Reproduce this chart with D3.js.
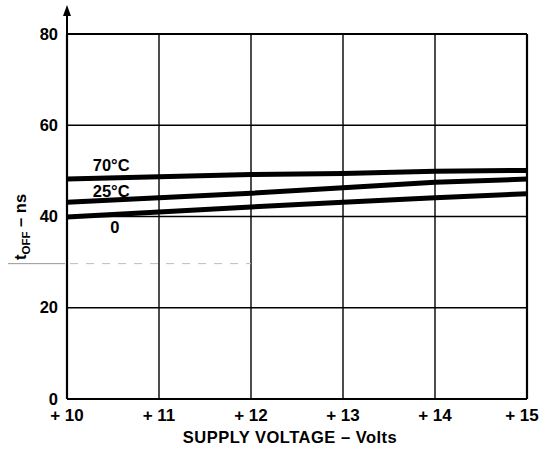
<!DOCTYPE html>
<html>
<head>
<meta charset="utf-8">
<script src="https://cdn.jsdelivr.net/npm/d3@7"></script>
<style>
  body { margin: 0; background: #fff; }
  svg text { font-family: "Liberation Sans", Arial, sans-serif; font-weight: bold; fill: #000; }
</style>
</head>
<body>
<div id="chart"></div>
<script>
document.addEventListener("DOMContentLoaded", function () {

    // supply voltage (V) and t_off (ns)
    const volts = [10, 11, 12, 13, 14, 15];
    const t70 = [48.2, 48.7, 49.2, 49.4, 49.9, 50.1];
    const t25 = [43.1, 44.1, 45.1, 46.3, 47.5, 48.2];
    const t0 = [39.9, 41.0, 42.1, 43.1, 44.1, 45.0];
    const series = [
        {name: "70°C", values: t70, lx: 10.48, ly: 50.0},
        {name: "25°C", values: t25, lx: 10.48, ly: 44.3},
        {name: "0", values: t0, lx: 10.52, ly: 36.4}
    ];
    const xTicks = [10, 11, 12, 13, 14, 15];
    const yTicks = [0, 20, 40, 60, 80];

    const W = 549, H = 451,
        left = 67, right = 527, top = 34, bottom = 399;

    const x = d3.scaleLinear().domain([10, 15]).range([left, right]);
    const y = d3.scaleLinear().domain([0, 80]).range([bottom, top]);

    const svg = d3.select("#chart")
        .append("svg")
        .attr("width", W)
        .attr("height", H);

    // grid
    let grid = svg.append("g").attr("stroke", "#000");
    xTicks.forEach(function (v) {
        grid.append("line")
            .attr("x1", x(v)).attr("x2", x(v))
            .attr("y1", top).attr("y2", bottom)
            .attr("stroke-width", (v === 10 || v === 15) ? 2.2 : 1.4);
    });
    yTicks.forEach(function (v) {
        grid.append("line")
            .attr("x1", left).attr("x2", right)
            .attr("y1", y(v)).attr("y2", y(v))
            .attr("stroke-width", (v === 0 || v === 80) ? 2.2 : 1.4);
    });

    // faint dashed trace at 30
    svg.append("line")
        .attr("x1", 8).attr("x2", left - 2)
        .attr("y1", y(30) + 1.5).attr("y2", y(30) + 1.5)
        .attr("stroke", "#999").attr("stroke-width", 1);
    svg.append("line")
        .attr("x1", left + 3).attr("x2", x(12))
        .attr("y1", y(30) + 1.5).attr("y2", y(30) + 1.5)
        .attr("stroke", "#bbb").attr("stroke-width", 1)
        .attr("stroke-dasharray", "8 8");

    // y axis arrow
    svg.append("line")
        .attr("x1", left).attr("x2", left)
        .attr("y1", top).attr("y2", 14)
        .attr("stroke", "#000").attr("stroke-width", 2);
    svg.append("path")
        .attr("d", `M${left - 4},16 L${left},5 L${left + 4},16 Z`)
        .attr("fill", "#000");

    // curves
    let line = d3.line()
        .x((d, i) => x(volts[i]))
        .y(d => y(d));

    series.forEach(function (s) {
        svg.append("path")
            .attr("d", line(s.values))
            .attr("fill", "none")
            .attr("stroke", "#000")
            .attr("stroke-width", 5);
        svg.append("text")
            .attr("x", x(s.lx))
            .attr("y", y(s.ly))
            .attr("text-anchor", "middle")
            .attr("font-size", 16.5)
            .text(s.name);
    });

    // tick labels
    yTicks.forEach(function (v) {
        svg.append("text")
            .attr("x", 58)
            .attr("y", y(v) + 5.5)
            .attr("text-anchor", "end")
            .attr("font-size", 16.5)
            .text(v);
    });
    xTicks.forEach(function (v) {
        svg.append("text")
            .attr("x", x(v) - (v === 15 ? 5 : 0))
            .attr("y", bottom + 22)
            .attr("text-anchor", "middle")
            .attr("font-size", 17)
            .text("+ " + v);
    });

    // axis titles
    svg.append("text")
        .attr("x", 290)
        .attr("y", 443)
        .attr("text-anchor", "middle")
        .attr("font-size", 16.5)
        .attr("letter-spacing", 0.5)
        .text("SUPPLY VOLTAGE – Volts");

    let yl = svg.append("text")
        .attr("transform", "translate(26,227) rotate(-90)")
        .attr("text-anchor", "middle")
        .attr("font-size", 16.5);
    yl.append("tspan").text("t");
    yl.append("tspan").attr("font-size", 11.5).attr("dy", 4).text("OFF");
    yl.append("tspan").attr("dy", -4).text(" – ns");
});
</script>
</body>
</html>
